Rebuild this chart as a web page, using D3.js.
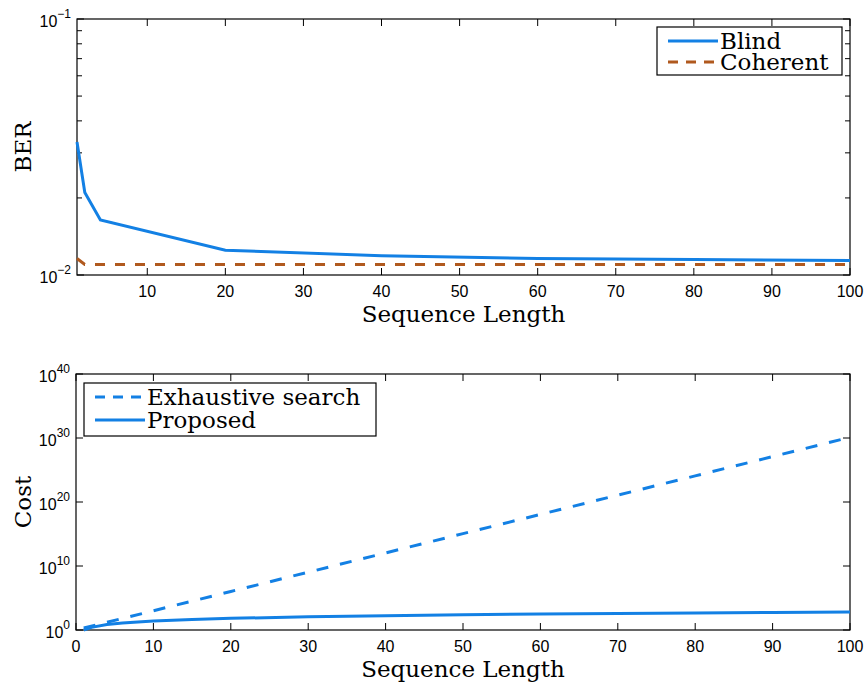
<!DOCTYPE html>
<html>
<head>
<meta charset="utf-8">
<script src="https://cdn.jsdelivr.net/npm/d3@7"></script>
<style>
  html, body { margin: 0; padding: 0; background: #fff; }
  svg { display: block; }
  .tick-label { font-family: "Liberation Sans", Arial, sans-serif; font-size: 16px; fill: #000; }
  .axis-title { font-family: "DejaVu Serif", serif; font-size: 23px; fill: #000; }
  .legend-text { font-family: "DejaVu Serif", serif; font-size: 23px; fill: #000; }
</style>
</head>
<body>
<svg id="chart" width="867" height="686"></svg>
<script>
// ---- BER vs sequence length ----
const berX = [1, 2, 4, 20, 40, 60, 80, 100];
const berBlind = [0.0331, 0.0210, 0.0164, 0.0125, 0.0119, 0.0116, 0.0115, 0.0114];
const berCoherent = [0.0116, 0.0110, 0.0110, 0.0110, 0.0110, 0.0110, 0.0110, 0.0110];
const berXTicks = [10, 20, 30, 40, 50, 60, 70, 80, 90, 100];
const berYTicks = [0.01, 0.1];
const berYTickExp = ["\u22122", "\u22121"];
const berYMinor = [0.02, 0.03, 0.04, 0.05, 0.06, 0.07, 0.08, 0.09];

// ---- Cost vs sequence length ----
const exhX = [1, 10, 20, 30, 40, 50, 60, 70, 80, 90, 100];
const exhCost = [2, 1024, 1.05e6, 1.07e9, 1.10e12, 1.13e15, 1.15e18, 1.18e21, 1.21e24, 1.24e27, 1.27e30];
const propX = [1, 2, 4, 6, 8, 10, 15, 20, 30, 40, 50, 60, 70, 80, 90, 100];
const propCost = [1, 2.6, 7, 12, 18, 25, 44, 66, 117, 175, 240, 310, 380, 460, 545, 630];
const costXTicks = [0, 10, 20, 30, 40, 50, 60, 70, 80, 90, 100];
const costYTicks = [1, 1e10, 1e20, 1e30, 1e40];
const costYTickExp = ["0", "10", "20", "30", "40"];

const blue = "#1380e4";
const brown = "#b0591e";

const svg = d3.select("#chart");

function panel(cfg) {
  const g = svg.append("g");
  const x = d3.scaleLinear().domain(cfg.xDomain).range([cfg.left, cfg.right]);
  const y = d3.scaleLog().domain(cfg.yDomain).range([cfg.bottom, cfg.top]);
  const tl = 7;

  // frame
  g.append("rect")
    .attr("x", cfg.left).attr("y", cfg.top)
    .attr("width", cfg.right - cfg.left).attr("height", cfg.bottom - cfg.top)
    .attr("fill", "none").attr("stroke", "#000").attr("stroke-width", 1.2);

  // x ticks (inside, top and bottom) with labels
  cfg.xTicks.forEach(v => {
    const px = x(v);
    g.append("line").attr("x1", px).attr("x2", px).attr("y1", cfg.bottom).attr("y2", cfg.bottom - tl)
      .attr("stroke", "#000").attr("stroke-width", 1);
    g.append("line").attr("x1", px).attr("x2", px).attr("y1", cfg.top).attr("y2", cfg.top + tl)
      .attr("stroke", "#000").attr("stroke-width", 1);
    g.append("text").attr("class", "tick-label")
      .attr("x", px).attr("y", cfg.bottom + 22)
      .attr("text-anchor", "middle").text(v);
  });

  // y ticks: major with 10^n labels, optional minor
  const yt = (v, len) => {
    const py = y(v);
    g.append("line").attr("x1", cfg.left).attr("x2", cfg.left + len).attr("y1", py).attr("y2", py)
      .attr("stroke", "#000").attr("stroke-width", 1);
    g.append("line").attr("x1", cfg.right).attr("x2", cfg.right - len).attr("y1", py).attr("y2", py)
      .attr("stroke", "#000").attr("stroke-width", 1);
  };
  cfg.yTicks.forEach((v, i) => {
    yt(v, tl);
    const t = g.append("text").attr("class", "tick-label")
      .attr("x", cfg.left - 6).attr("y", y(v) + 8).attr("text-anchor", "end");
    t.append("tspan").text("10");
    t.append("tspan").attr("dy", -9).attr("font-size", "12px").text(cfg.yExp[i]);
  });
  (cfg.yMinor || []).forEach(v => yt(v, 5));

  // axis titles
  g.append("text").attr("class", "axis-title")
    .attr("x", (cfg.left + cfg.right) / 2).attr("y", cfg.bottom + 47)
    .attr("text-anchor", "middle").text(cfg.xTitle);
  g.append("text").attr("class", "axis-title")
    .attr("transform", `translate(31,${(cfg.top + cfg.bottom) / 2}) rotate(-90)`)
    .attr("text-anchor", "middle").text(cfg.yTitle);

  // series
  const line = d3.line().x(d => x(d[0])).y(d => y(d[1]));
  cfg.series.forEach(s => {
    g.append("path")
      .datum(s.xs.map((v, i) => [v, s.ys[i]]))
      .attr("d", line)
      .attr("fill", "none").attr("stroke", s.color).attr("stroke-width", 3)
      .attr("stroke-dasharray", s.dash || null);
  });

  // legend
  const L = cfg.legend;
  g.append("rect").attr("x", L.x).attr("y", L.y).attr("width", L.w).attr("height", L.h)
    .attr("fill", "#fff").attr("stroke", "#000").attr("stroke-width", 1.2);
  cfg.series.forEach((s, i) => {
    const cy = L.y + L.row0 + i * L.rowH;
    g.append("line").attr("x1", L.x + 11).attr("x2", L.x + 61).attr("y1", cy).attr("y2", cy)
      .attr("stroke", s.color).attr("stroke-width", 3)
      .attr("stroke-dasharray", s.dash ? "10,8" : null);
    g.append("text").attr("class", "legend-text")
      .attr("x", L.x + 63).attr("y", cy + 8).text(s.name);
  });
}

panel({
  left: 77, right: 850, top: 19, bottom: 275,
  xDomain: [1, 100], yDomain: [0.01, 0.1],
  xTicks: berXTicks, yTicks: berYTicks, yExp: berYTickExp, yMinor: berYMinor,
  xTitle: "Sequence Length", yTitle: "BER",
  series: [
    { name: "Blind", xs: berX, ys: berBlind, color: blue },
    { name: "Coherent", xs: berX, ys: berCoherent, color: brown, dash: "10,10" }
  ],
  legend: { x: 657, y: 27, w: 185, h: 48, row0: 14, rowH: 21 }
});

panel({
  left: 76, right: 850, top: 374, bottom: 630,
  xDomain: [0, 100], yDomain: [1, 1e40],
  xTicks: costXTicks, yTicks: costYTicks, yExp: costYTickExp,
  xTitle: "Sequence Length", yTitle: "Cost",
  series: [
    { name: "Exhaustive search", xs: exhX, ys: exhCost, color: blue, dash: "12,12" },
    { name: "Proposed", xs: propX, ys: propCost, color: blue }
  ],
  legend: { x: 84, y: 383, w: 292, h: 53, row0: 14, rowH: 23 }
});
</script>
</body>
</html>
